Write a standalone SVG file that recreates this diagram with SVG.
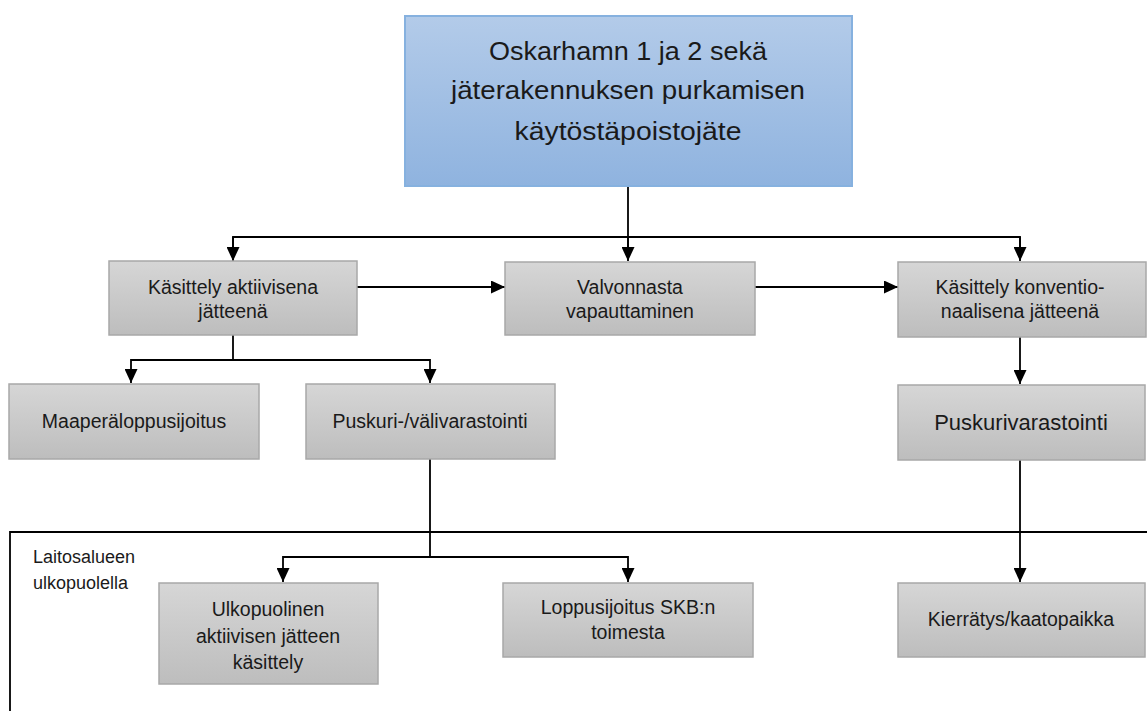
<svg xmlns="http://www.w3.org/2000/svg" width="1147" height="711" viewBox="0 0 1147 711">
<defs>
<linearGradient id="gBlue" x1="0" y1="0" x2="0" y2="1"><stop offset="0" stop-color="#b3cbe9"/><stop offset="1" stop-color="#8fb3df"/></linearGradient>
<linearGradient id="gGray" x1="0" y1="0" x2="0" y2="1"><stop offset="0" stop-color="#d6d6d6"/><stop offset="1" stop-color="#bdbdbd"/></linearGradient>
<marker id="arr" viewBox="0 0 14 13" refX="14" refY="6.5" markerWidth="14" markerHeight="13" markerUnits="userSpaceOnUse" orient="auto"><path d="M0,0 L14,6.5 L0,13 z" fill="#000"/></marker>
</defs>
<style>
.box{fill:url(#gGray);stroke:#a8a8a8;stroke-width:1.5}
.t{font-family:"Liberation Sans",Arial,sans-serif;font-size:19.5px;fill:#1a1a1a;text-anchor:middle}
.tl{font-family:"Liberation Sans",Arial,sans-serif;font-size:22px;fill:#1a1a1a;text-anchor:middle}
.big{font-family:"Liberation Sans",Arial,sans-serif;font-size:25px;fill:#1a1a1a;text-anchor:middle}
.c{fill:none;stroke:#000;stroke-width:1.8}
.lbl{font-family:"Liberation Sans",Arial,sans-serif;font-size:18px;fill:#1a1a1a}
</style>
<rect width="1147" height="711" fill="#fff"/>
<g id="region">
<path d="M10,711 L10,532 L1147,532" fill="none" stroke="#000" stroke-width="1.8"/>
<text class="lbl" x="33" y="563">Laitosalueen</text>
<text class="lbl" x="33" y="589">ulkopuolella</text>
</g>
<g id="connectors">
<path class="c" d="M628,186 L628,250"/>
<path class="c" d="M233,250 L233,237 L1020,237 L1020,250"/>
<path class="c" d="M233,237 L233,261" marker-end="url(#arr)"/>
<path class="c" d="M628,237 L628,261" marker-end="url(#arr)"/>
<path class="c" d="M1020,237 L1020,261" marker-end="url(#arr)"/>
<path class="c" d="M357,287 L505,287" marker-end="url(#arr)"/>
<path class="c" d="M755,287 L898,287" marker-end="url(#arr)"/>
<path class="c" d="M233,335 L233,360 L131,360 L131,383" marker-end="url(#arr)"/>
<path class="c" d="M233,360 L430,360 L430,383" marker-end="url(#arr)"/>
<path class="c" d="M1020,337 L1020,384" marker-end="url(#arr)"/>
<path class="c" d="M1020,460 L1020,582" marker-end="url(#arr)"/>
<path class="c" d="M430,459 L430,557 L283,557 L283,582" marker-end="url(#arr)"/>
<path class="c" d="M430,557 L628,557 L628,582" marker-end="url(#arr)"/>
</g>
<g id="top">
<rect x="405" y="16" width="447" height="170" fill="url(#gBlue)" stroke="#86b1df" stroke-width="2"/>
<text class="big" x="628" y="60" textLength="278" lengthAdjust="spacingAndGlyphs">Oskarhamn 1 ja 2 sekä</text>
<text class="big" x="628" y="99" textLength="354" lengthAdjust="spacingAndGlyphs">jäterakennuksen purkamisen</text>
<text class="big" x="628" y="140" textLength="227" lengthAdjust="spacingAndGlyphs">käytöstäpoistojäte</text>
</g>
<g id="n1"><rect class="box" x="109" y="261" width="248" height="74"/>
<text class="t" x="233" y="294">Käsittely aktiivisena</text><text class="t" x="233" y="318">jätteenä</text></g>
<g id="n2"><rect class="box" x="505" y="262" width="250" height="73"/>
<text class="t" x="630" y="294">Valvonnasta</text><text class="t" x="630" y="318">vapauttaminen</text></g>
<g id="n3"><rect class="box" x="898" y="262" width="248" height="75"/>
<text class="t" x="1020" y="294">Käsittely konventio-</text><text class="t" x="1020" y="318">naalisena jätteenä</text></g>
<g id="n4"><rect class="box" x="9" y="384" width="250" height="75"/>
<text class="t" x="134" y="428">Maaperäloppusijoitus</text></g>
<g id="n5"><rect class="box" x="306" y="384" width="249" height="75"/>
<text class="t" x="430" y="428">Puskuri-/välivarastointi</text></g>
<g id="n6"><rect class="box" x="898" y="385" width="247" height="75"/>
<text class="tl" x="1021" y="430">Puskurivarastointi</text></g>
<g id="n7"><rect class="box" x="159" y="583" width="219" height="101"/>
<text class="t" x="268" y="616">Ulkopuolinen</text><text class="t" x="268" y="643">aktiivisen jätteen</text><text class="t" x="268" y="669">käsittely</text></g>
<g id="n8"><rect class="box" x="503" y="583" width="250" height="74"/>
<text class="t" x="628" y="614">Loppusijoitus SKB:n</text><text class="t" x="628" y="639">toimesta</text></g>
<g id="n9"><rect class="box" x="898" y="583" width="247" height="74"/>
<text class="t" x="1021" y="626">Kierrätys/kaatopaikka</text></g>
</svg>
